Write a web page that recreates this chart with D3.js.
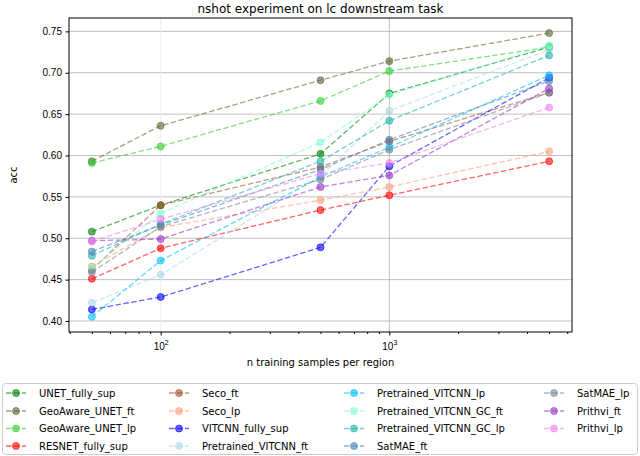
<!DOCTYPE html>
<html>
<head>
<meta charset="utf-8">
<script src="https://cdn.jsdelivr.net/npm/d3@7"></script>
<style>
  body { margin: 0; background: #fff; }
  svg { font-family: "DejaVu Sans", sans-serif; }
  .tick text { font-size: 10px; fill: #000; }
  .axis path, .axis line { stroke: #000; }
</style>
</head>
<body>
<svg id="chart" width="640" height="456"></svg>
<script>
// x values (training samples per region)
var nSamples = [50, 100, 500, 1000, 5000];

var seriesNames = [
  "UNET_fully_sup", "GeoAware_UNET_ft", "GeoAware_UNET_lp", "RESNET_fully_sup",
  "Seco_ft", "Seco_lp", "VITCNN_fully_sup", "Pretrained_VITCNN_ft",
  "Pretrained_VITCNN_lp", "Pretrained_VITCNN_GC_ft", "Pretrained_VITCNN_GC_lp", "SatMAE_ft",
  "SatMAE_lp", "Prithvi_ft", "Prithvi_lp"
];

// acc per series, same order as nSamples
var UNET_fully_sup          = [0.508, 0.540, 0.602, 0.675, 0.731];
var GeoAware_UNET_ft        = [0.593, 0.636, 0.691, 0.714, 0.748];
var GeoAware_UNET_lp        = [0.591, 0.611, 0.666, 0.702, 0.731];
var RESNET_fully_sup        = [0.451, 0.488, 0.534, 0.552, 0.593];
var Seco_ft                 = [0.462, 0.540, 0.586, 0.617, 0.676];
var Seco_lp                 = [0.466, 0.513, 0.546, 0.562, 0.605];
var VITCNN_fully_sup        = [0.414, 0.429, 0.489, 0.587, 0.694];
var Pretrained_VITCNN_ft    = [0.422, 0.456, 0.575, 0.654, 0.728];
var Pretrained_VITCNN_lp    = [0.405, 0.473, 0.574, 0.610, 0.697];
var Pretrained_VITCNN_GC_ft = [0.464, 0.530, 0.616, 0.673, 0.733];
var Pretrained_VITCNN_GC_lp = [0.479, 0.517, 0.593, 0.642, 0.721];
var SatMAE_ft               = [0.484, 0.516, 0.583, 0.619, 0.690];
var SatMAE_lp               = [0.459, 0.514, 0.571, 0.607, 0.676];
var Prithvi_ft              = [0.497, 0.499, 0.562, 0.576, 0.681];
var Prithvi_lp              = [0.496, 0.523, 0.578, 0.591, 0.658];

var yTicks = [0.40, 0.45, 0.50, 0.55, 0.60, 0.65, 0.70, 0.75];
var xTicks = [100, 1000];

var seriesValues = [
  UNET_fully_sup, GeoAware_UNET_ft, GeoAware_UNET_lp, RESNET_fully_sup,
  Seco_ft, Seco_lp, VITCNN_fully_sup, Pretrained_VITCNN_ft,
  Pretrained_VITCNN_lp, Pretrained_VITCNN_GC_ft, Pretrained_VITCNN_GC_lp, SatMAE_ft,
  SatMAE_lp, Prithvi_ft, Prithvi_lp
];

var colors = [
  "green", "darkolivegreen", "limegreen", "red",
  "sienna", "lightsalmon", "blue", "lightblue",
  "deepskyblue", "aquamarine", "lightseagreen", "steelblue",
  "lightslategray", "darkorchid", "violet"
];

var svg = d3.select("#chart");

var margin = {top: 18, right: 68, bottom: 124, left: 69},
    width = 640 - margin.left - margin.right,
    height = 456 - margin.top - margin.bottom;

// log axis with matplotlib-like 5% padding in log space
var x = d3.scaleLog().domain([Math.pow(10, 1.599), Math.pow(10, 3.799)]).range([0, width]);
var y = d3.scaleLinear().domain([0.3867, 0.7662]).range([height, 0]);

var g = svg.append("g")
    .attr("transform", "translate(" + margin.left + "," + margin.top + ")");

// grid
g.selectAll(".ygrid").data(yTicks).enter().append("line")
    .attr("x1", 0).attr("x2", width)
    .attr("y1", function(d) { return y(d); })
    .attr("y2", function(d) { return y(d); })
    .style("stroke", "#b0b0b0").style("stroke-width", 0.8);

g.selectAll(".xgrid").data(xTicks).enter().append("line")
    .attr("y1", 0).attr("y2", height)
    .attr("x1", function(d) { return x(d); })
    .attr("x2", function(d) { return x(d); })
    .style("stroke", function(d) { return d === 100 ? "#ebebeb" : "#b0b0b0"; })
    .style("stroke-width", 0.8);

// minor ticks
var minorTicks = [];
[10, 100, 1000].forEach(function(dec) {
  for (var k = 2; k <= 9; k++) {
    var v = dec * k;
    if (v > x.domain()[0] && v < x.domain()[1]) minorTicks.push(v);
  }
});

var xAxis = d3.axisBottom(x).tickValues(xTicks).tickSize(3.5).tickPadding(4)
    .tickFormat(function() { return ""; });
var gx = g.append("g")
    .attr("class", "axis")
    .attr("transform", "translate(0," + height + ")")
    .call(xAxis);
gx.select(".domain").remove();

g.append("g")
    .attr("class", "axis")
    .attr("transform", "translate(0," + height + ")")
    .call(d3.axisBottom(x).tickValues(minorTicks).tickSize(2).tickFormat(""))
    .select(".domain").remove();

// 10^n labels
gx.selectAll(".tick").append("text")
    .attr("y", 18)
    .attr("text-anchor", "middle")
    .style("font-size", "10px")
    .style("fill", "#000")
    .each(function(d) {
      var t = d3.select(this);
      t.append("tspan").text("10");
      t.append("tspan").attr("dy", -5).style("font-size", "7px").text(Math.round(Math.log10(d)));
    });

var yAxis = d3.axisLeft(y).tickValues(yTicks).tickSize(3.5).tickPadding(3.5)
    .tickFormat(d3.format(".2f"));
g.append("g").attr("class", "axis").call(yAxis).select(".domain").remove();

// frame
g.append("rect")
    .attr("width", width).attr("height", height)
    .style("fill", "none").style("stroke", "#000").style("stroke-width", 1);

// series
var line = d3.line()
    .x(function(d, i) { return x(nSamples[i]); })
    .y(function(d) { return y(d); });

seriesValues.forEach(function(vals, s) {
  g.append("path")
      .attr("d", line(vals))
      .style("fill", "none")
      .style("stroke", colors[s])
      .style("stroke-opacity", 0.6)
      .style("stroke-width", 1.3)
      .style("stroke-dasharray", "5.5,2.5");
  // face and edge drawn separately, like matplotlib markers with alpha
  g.selectAll(null).data(vals).enter().append("circle")
      .attr("cx", function(d, i) { return x(nSamples[i]); })
      .attr("cy", function(d) { return y(d); })
      .attr("r", 3.5)
      .style("fill", colors[s]).style("fill-opacity", 0.6)
      .style("stroke", colors[s]).style("stroke-opacity", 0.6)
      .style("stroke-width", 1);
});

// title and labels
svg.append("text")
    .attr("x", margin.left + width / 2).attr("y", 13)
    .attr("text-anchor", "middle")
    .style("font-size", "12px")
    .text("nshot experiment on lc downstream task");

svg.append("text")
    .attr("x", margin.left + width / 2).attr("y", 366)
    .attr("text-anchor", "middle")
    .style("font-size", "10px")
    .text("n training samples per region");

svg.append("text")
    .attr("transform", "translate(17," + (margin.top + height / 2) + ") rotate(-90)")
    .attr("text-anchor", "middle")
    .style("font-size", "10px")
    .text("acc");

// legend
var legend = svg.append("g");
legend.append("rect")
    .attr("x", 2.5).attr("y", 383.5).attr("width", 635).attr("height", 71)
    .attr("rx", 3)
    .style("fill", "#fff").style("stroke", "#ccc");

var colX = [6, 169, 344, 544];
var rowY = [393, 411, 428.5, 446];

seriesNames.forEach(function(name, s) {
  var cx = colX[Math.floor(s / 4)], cy = rowY[s % 4];
  var item = legend.append("g").attr("transform", "translate(" + cx + "," + cy + ")");
  item.append("line")
      .attr("x1", 0).attr("x2", 20).attr("y1", 0).attr("y2", 0)
      .style("stroke", colors[s]).style("stroke-opacity", 0.6).style("stroke-width", 1.3)
      .style("stroke-dasharray", "5.5,2.5");
  item.append("circle").attr("cx", 10).attr("cy", 0).attr("r", 3.5)
      .style("fill", colors[s]).style("fill-opacity", 0.6)
      .style("stroke", colors[s]).style("stroke-opacity", 0.6).style("stroke-width", 1);
  item.append("text")
      .attr("x", 33).attr("y", 0).attr("dy", "0.35em")
      .style("font-size", "10px")
      .text(name);
});
</script>
</body>
</html>
